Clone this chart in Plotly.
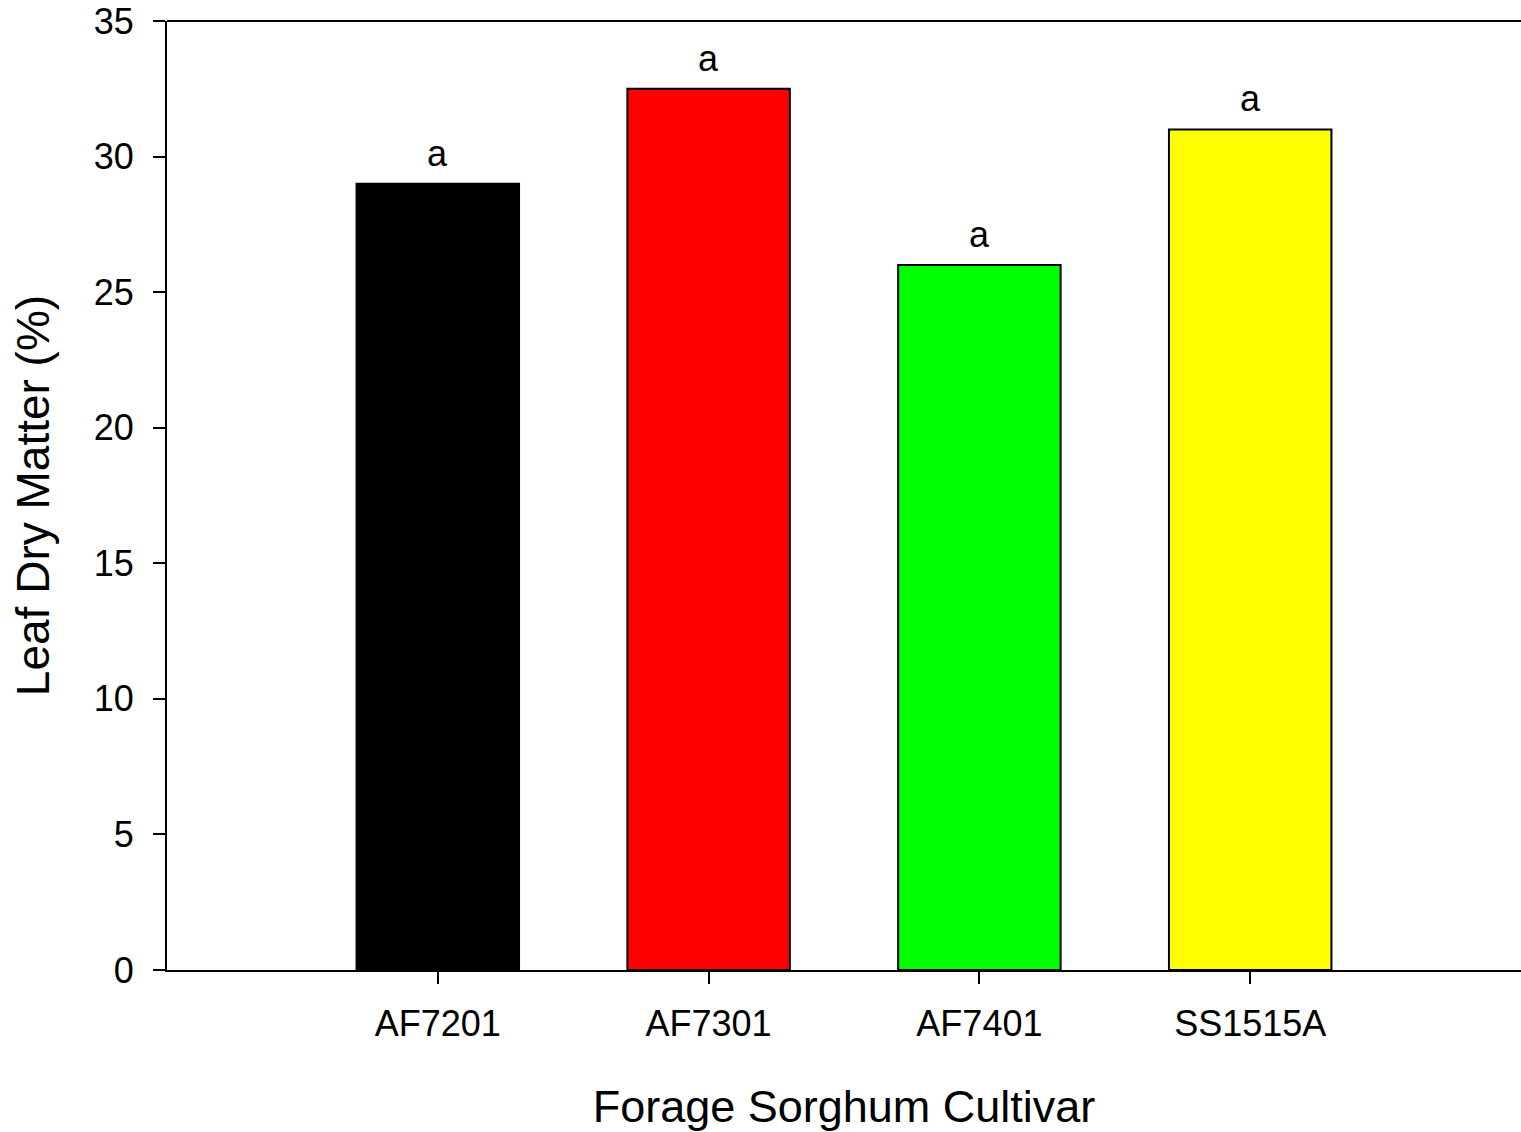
import plotly.graph_objects as go

cultivars = ["AF7201", "AF7301", "AF7401", "SS1515A"]
dry_matter = [29.0, 32.5, 26.0, 31.0]
letters = ["a", "a", "a", "a"]
bar_colors = ["#000000", "#ff0000", "#00ff00", "#ffff00"]
y_ticks = [0, 5, 10, 15, 20, 25, 30, 35]

FONT = "Liberation Sans, Arial, sans-serif"

fig = go.Figure()
fig.add_trace(go.Bar(
    x=list(range(len(cultivars))),
    y=dry_matter,
    width=0.6,
    marker=dict(color=bar_colors, line=dict(color="black", width=2)),
    showlegend=False,
))

for i, (v, t) in enumerate(zip(dry_matter, letters)):
    fig.add_annotation(x=i, y=v, text=t, showarrow=False, yanchor="bottom",
                       yshift=8, font=dict(family=FONT, size=36, color="black"))

fig.add_shape(type="line", xref="paper", yref="paper", x0=0, x1=1, y0=1, y1=1,
              line=dict(color="black", width=2))

fig.update_layout(
    width=1521, height=1132,
    margin=dict(l=167, r=0, t=21, b=162),
    paper_bgcolor="white", plot_bgcolor="white",
    font=dict(family=FONT, color="black"),
    xaxis=dict(
        range=[-1, 4], tickmode="array", tickvals=list(range(len(cultivars))),
        ticktext=cultivars, ticks="outside", ticklen=12, tickwidth=2,
        tickcolor="black", showline=True, linecolor="black", linewidth=2,
        showgrid=False, zeroline=False, tickfont=dict(size=36),
        ticklabelstandoff=9,
        title=dict(text="Forage Sorghum Cultivar", font=dict(size=45), standoff=48),
    ),
    yaxis=dict(
        range=[0, 35], tickvals=y_ticks, ticks="outside", ticklen=12, tickwidth=2,
        tickcolor="black", showline=True, linecolor="black", linewidth=2,
        showgrid=False, zeroline=False, tickfont=dict(size=36),
        ticklabelstandoff=12,
        title=dict(text="Leaf Dry Matter (%)", font=dict(size=46), standoff=30),
    ),
)

fig.write_html("out.html", config={"displayModeBar": False},
               post_script="document.body.style.margin='0';document.body.style.overflow='hidden';")
